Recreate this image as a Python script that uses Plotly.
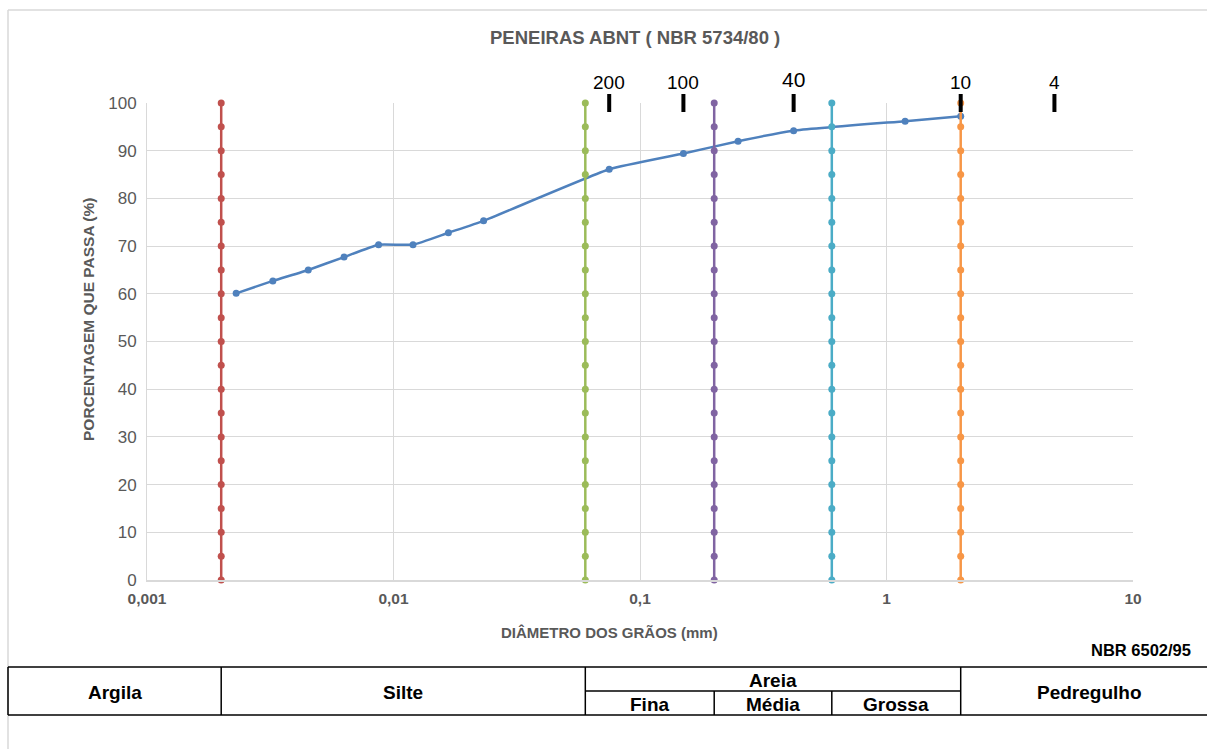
import math
import plotly.graph_objects as go

# ---------------- data ----------------
diam_mm = [0.0023, 0.00324, 0.00451, 0.0063, 0.0087, 0.012, 0.0167, 0.0232,
           0.075, 0.15, 0.25, 0.42, 1.19, 2.0]
pct_passing = [60.1, 62.7, 65.0, 67.7, 70.3, 70.3, 72.8, 75.3,
               86.1, 89.4, 92.0, 94.2, 96.2, 97.2]

class_limits = [0.002, 0.06, 0.2, 0.6, 2.0]
class_colors = ["#C0504D", "#9BBB59", "#8064A2", "#4BACC6", "#F79646"]
limit_pcts = list(range(0, 101, 5))

sieve_numbers = ["200", "100", "40", "10", "4"]
sieve_openings = [0.075, 0.15, 0.42, 2.0, 4.8]

x_tickvals = [0.001, 0.01, 0.1, 1, 10]
x_ticktext = ["0,001", "0,01", "0,1", "1", "10"]

title_text = "PENEIRAS ABNT ( NBR 5734/80 )"
x_title = "DIÂMETRO DOS GRÃOS (mm)"
y_title = "PORCENTAGEM QUE PASSA (%)"
norm_text = "NBR 6502/95"
main_classes = ["Argila", "Silte", "Areia", "Pedregulho"]
sand_classes = ["Fina", "Média", "Grossa"]

# ---------------- layout geometry ----------------
W, H = 1207, 749
L, R, T, B = 147, 74, 103, 169
PW, PH = W - L - R, H - T - B


def px_x(p):
    return (p - L) / PW


def px_y(p):
    return (H - B - p) / PH


def lx(v):
    return math.log10(v)


def data_px(v):
    return L + PW * (lx(v) + 3) / 4


GRAY = "#595959"
GRID = "#D9D9D9"
FONT = "Liberation Sans, Arial, sans-serif"

fig = go.Figure()

fig.add_trace(go.Scatter(
    x=diam_mm, y=pct_passing, mode="lines+markers",
    line=dict(color="#4F81BD", width=2.5, shape="spline", smoothing=0.4),
    marker=dict(color="#4F81BD", size=7), showlegend=False))

for lim, col in zip(class_limits, class_colors):
    fig.add_trace(go.Scatter(
        x=[lim] * len(limit_pcts), y=limit_pcts, mode="lines+markers",
        line=dict(color=col, width=2.5), marker=dict(color=col, size=7),
        showlegend=False, cliponaxis=False))

shapes = []
annotations = []


def ann(x, y, text, font, xref="paper", **kw):
    d = dict(xref=xref, yref="paper", x=x, y=y, text=text, showarrow=False,
             xanchor="center", yanchor="middle", font=font)
    d.update(kw)
    annotations.append(d)


# sieve ticks (shapes on log axis take raw data values) and labels
for num, op in zip(sieve_numbers, sieve_openings):
    shapes.append(dict(type="line", xref="x", yref="paper",
                       x0=op, x1=op, y0=px_y(112), y1=px_y(94),
                       line=dict(color="black", width=4)))
    big = num == "40"
    ann(lx(op), px_y(79 if big else 82), num,
        dict(family=FONT, size=21 if big else 19, color="black"), xref="x")

# outer border
shapes.append(dict(type="line", xref="paper", yref="paper",
                   x0=px_x(8), x1=px_x(1210), y0=px_y(10), y1=px_y(10),
                   line=dict(color=GRID, width=1.5)))
shapes.append(dict(type="line", xref="paper", yref="paper",
                   x0=px_x(8), x1=px_x(8), y0=px_y(10), y1=px_y(752),
                   line=dict(color=GRID, width=1.5)))

# classification table
tb_top, tb_mid, tb_bot = 667, 691, 715
tb_left, tb_right = 8, 1215
line_k = dict(color="black", width=1.5)
for yy in (tb_top, tb_bot):
    shapes.append(dict(type="line", xref="paper", yref="paper",
                       x0=px_x(tb_left), x1=px_x(tb_right), y0=px_y(yy), y1=px_y(yy),
                       line=line_k))
shapes.append(dict(type="line", xref="paper", yref="paper",
                   x0=px_x(tb_left), x1=px_x(tb_left), y0=px_y(tb_top), y1=px_y(tb_bot),
                   line=line_k))
for lim in [class_limits[0], class_limits[1], class_limits[4]]:
    shapes.append(dict(type="line", xref="x", yref="paper",
                       x0=lim, x1=lim, y0=px_y(tb_top), y1=px_y(tb_bot), line=line_k))
shapes.append(dict(type="line", xref="x", yref="paper",
                   x0=class_limits[1], x1=class_limits[4],
                   y0=px_y(tb_mid), y1=px_y(tb_mid), line=line_k))
for lim in [class_limits[2], class_limits[3]]:
    shapes.append(dict(type="line", xref="x", yref="paper",
                       x0=lim, x1=lim, y0=px_y(tb_mid), y1=px_y(tb_bot), line=line_k))

bounds_px = [tb_left] + [data_px(v) for v in class_limits] + [1218]
tfont = dict(family=FONT, size=19, color="black")
mid_main = [(bounds_px[0] + bounds_px[1]) / 2, (bounds_px[1] + bounds_px[2]) / 2,
            (bounds_px[2] + bounds_px[5]) / 2, (bounds_px[5] + bounds_px[6]) / 2]
for name, cx in zip(main_classes, mid_main):
    cy = 680 if name == "Areia" else 692
    ann(px_x(cx), px_y(cy), "<b>%s</b>" % name, tfont)
for i, name in enumerate(sand_classes):
    cx = (bounds_px[2 + i] + bounds_px[3 + i]) / 2
    ann(px_x(cx), px_y(704), "<b>%s</b>" % name, tfont)

# titles
ann(px_x(635), px_y(38), "<b>%s</b>" % title_text, dict(family=FONT, size=18.5, color=GRAY))
ann(px_x(609), px_y(632), "<b>%s</b>" % x_title, dict(family=FONT, size=15, color=GRAY))
ann(px_x(88), px_y(320), "<b>%s</b>" % y_title, dict(family=FONT, size=15.5, color=GRAY),
    textangle=-90)
ann(px_x(1193), px_y(650), "<b>%s</b>" % norm_text, dict(family=FONT, size=16.5, color="black"),
    xanchor="right")

fig.update_layout(
    width=W, height=H, margin=dict(l=L, r=R, t=T, b=B),
    paper_bgcolor="white", plot_bgcolor="white",
    shapes=shapes, annotations=annotations, showlegend=False,
    xaxis=dict(type="log", range=[-3, 1], tickvals=x_tickvals,
               ticktext=["<b>%s</b>" % t for t in x_ticktext],
               tickfont=dict(family=FONT, size=15.5, color=GRAY), ticklabelstandoff=3,
               showgrid=True, gridcolor=GRID, gridwidth=1,
               showline=True, linecolor=GRID, linewidth=2, ticks="", zeroline=False),
    yaxis=dict(range=[0, 100], dtick=10, tickfont=dict(family=FONT, size=17, color=GRAY),
               ticklabelstandoff=6,
               showgrid=True, gridcolor=GRID, gridwidth=1,
               showline=True, linecolor=GRID, linewidth=1, ticks="", zeroline=False),
)

fig.write_html("out.html")
